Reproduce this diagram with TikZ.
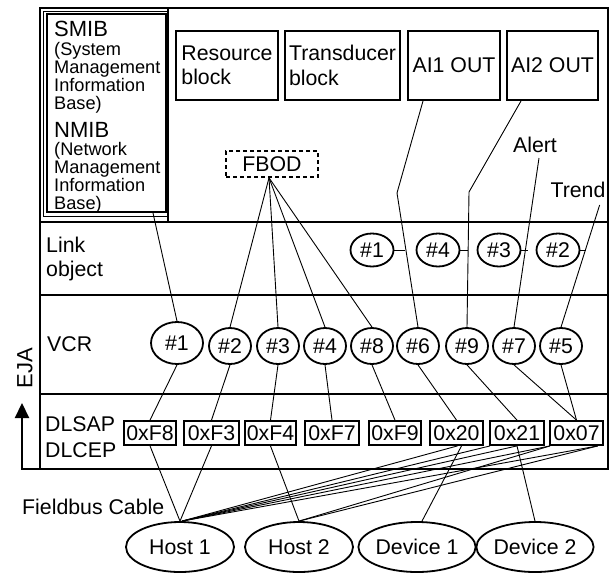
\documentclass[tikz,border=0pt]{standalone}
\usepackage{fontspec}
\setmainfont{Liberation Sans}
\usetikzlibrary{shapes.geometric,arrows.meta,calc}
\begin{document}
\begin{tikzpicture}[x=1pt,y=-1pt,
  font=\fontsize{21.3}{24.5}\selectfont,
  frm/.style={line width=2pt},
  conn/.style={line width=0.9pt},
  lbl/.style={anchor=base west, inner sep=0pt},
  smf/.style={font=\fontsize{18.2}{18}\selectfont},
  bigf/.style={font=\fontsize{22}{24}\selectfont},
  blk/.style={draw, line width=2pt, minimum height=69pt, inner sep=0pt, align=left},
  lk/.style={ellipse, draw, line width=1.8pt, minimum width=43pt, minimum height=33pt, inner sep=0pt},
  vc/.style={ellipse, draw, line width=1.8pt, minimum width=42pt, minimum height=36pt, inner sep=0pt},
  hx/.style={draw, line width=1.8pt, minimum height=24pt, inner sep=0pt},
  dev/.style={ellipse, draw, line width=1.8pt, minimum width=108pt, minimum height=50pt, inner sep=0pt},
  fbodbox/.style={draw, line width=1.6pt, dash pattern=on 4pt off 3pt, minimum width=92pt, minimum height=26pt, inner sep=0pt}
]
\useasboundingbox (0,0) rectangle (612,573);

% frame
\draw[frm] (40,8) rectangle (608,469);
\draw[frm] (40,222) -- (608,222);
\draw[frm] (40,295) -- (608,295);
\draw[frm] (40,394) -- (608,394);
\draw[frm] (168,8) -- (168,222);
\draw[line width=1pt] (43,11) rectangle (168,216);
\node[draw, line width=2pt, minimum width=119pt, minimum height=198pt, inner sep=0pt] (smib) at (106.5,113) {};

% SMIB / NMIB text
\node[lbl,bigf] (t1) at (54,36) {SMIB};
\node[lbl,smf] (t2) at (54,55) {(System};
\node[lbl,smf] (t3) at (54,73) {Management};
\node[lbl,smf] (t4) at (54,91) {Information};
\node[lbl,smf] (t5) at (54,109) {Base)};
\node[lbl,bigf] (t6) at (54,137) {NMIB};
\node[lbl,smf] (t7) at (54,155) {(Network};
\node[lbl,smf] (t8) at (54,173) {Management};
\node[lbl,smf] (t9) at (54,191) {Information};
\node[lbl,smf] (t10) at (54,209) {Base)};

% row labels
\node[lbl] (lnk1) at (46,252) {Link};
\node[lbl] (lnk2) at (46,276) {object};
\node[lbl] (vcrl) at (47,351) {VCR};
\node[lbl] (dls) at (45,431) {DLSAP};
\node[lbl] (dlc) at (45,457) {DLCEP};
\node[lbl] (fbc) at (22,514) {Fieldbus Cable};
\node[rotate=90, bigf, inner sep=0pt] (eja) at (25,368) {EJA};
\draw[line width=2.2pt, -{Triangle[length=15pt,width=14pt]}] (40,469) -- (22,469) -- (22,403);

% top blocks
\node[blk, minimum width=102pt] (res) at (227,65.5) {Resource\\block};
\node[blk, minimum width=115pt] (trd) at (342.5,65.5) {Transducer\\block};
\node[blk, minimum width=92pt] (ai1) at (454,65.5) {AI1 OUT};
\node[blk, minimum width=91pt] (ai2) at (552.5,65.5) {AI2 OUT};
\node[fbodbox] (fbod) at (272,164) {FBOD};
\node[inner sep=0pt] (alert) at (535,145) {Alert};
\node[inner sep=0pt] (trend) at (578,190) {Trend};

% link objects
\node[lk] (l1) at (372,250) {\#1};
\node[lk] (l4) at (438,250) {\#4};
\node[lk] (l3) at (499,250) {\#3};
\node[lk] (l2) at (558,250) {\#2};

% VCR
\node[ellipse, draw, line width=1.8pt, minimum width=52pt, minimum height=42pt, inner sep=0pt] (v1) at (177,343) {\#1};
\node[vc] (v2) at (230,346) {\#2};
\node[vc] (v3) at (278,346) {\#3};
\node[vc] (v4) at (325,346) {\#4};
\node[vc] (v8) at (372,346) {\#8};
\node[vc] (v6) at (418,346) {\#6};
\node[vc] (v9) at (467,346) {\#9};
\node[vc] (v7) at (514,346) {\#7};
\node[vc] (v5) at (561,346) {\#5};

% DLSAP boxes
\node[hx, minimum width=52pt] (f8) at (150,433) {0xF8};
\node[hx, minimum width=55pt] (f3) at (211.5,433) {0xF3};
\node[hx, minimum width=51pt] (f4) at (270.5,433) {0xF4};
\node[hx, minimum width=54pt] (f7) at (332,433) {0xF7};
\node[hx, minimum width=52pt] (f9) at (395,433) {0xF9};
\node[hx, minimum width=53pt] (x20) at (456.5,433) {0x20};
\node[hx, minimum width=54pt] (x21) at (517,433) {0x21};
\node[hx, minimum width=53pt] (x07) at (576.5,433) {0x07};

% devices
\node[dev] (h1) at (180,547) {Host 1};
\node[dev] (h2) at (299,547) {Host 2};
\node[dev] (d1) at (417,547) {Device 1};
\node[dev] (d2) at (535,547) {Device 2};

% helper coordinates
\coordinate (k1) at (397,193);
\coordinate (k2) at (469,192);
\coordinate (s1) at (405,250);
\coordinate (s4) at (468,250);
\coordinate (s3) at (527.5,250);
\coordinate (s2) at (585.5,250);
\coordinate (fb) at ($(fbod.south)+(-3,0)$);

% upper connectors
\draw[conn] ($(smib.south)+(46.5,0)$) -- (v1.north);
\draw[conn] ($(ai1.south)+(-31,0)$) -- (k1) -- (v6.north);
\draw[conn] ($(ai2.south)+(-31.5,0)$) -- (k2) -- (v9.north);
\draw[conn] ($(alert.south)+(4,5)$) -- (v7.north);
\draw[conn] ($(trend.south east)+(-6,7)$) -- (v5.north);
\draw[conn] (l1.east) -- (s1);
\draw[conn] (l4.east) -- (s4);
\draw[conn] (l3.east) -- (s3);
\draw[conn] (l2.east) -- (s2);
\foreach \v in {v2,v3,v4,v8} \draw[conn] (fb) -- (\v.north);

% VCR to DLSAP
\draw[conn] (v1.south) -- (f8.north);
\draw[conn] (v2.south) -- (f3.north);
\draw[conn] (v3.south) -- (f4.north);
\draw[conn] (v4.south) -- (f7.north);
\draw[conn] (v8.south) -- (f9.north);
\draw[conn] (v6.south) -- (x20.north);
\draw[conn] (v9.south) -- (x21.north);
\draw[conn] (v7.south) -- (x07.north);
\draw[conn] (v5.south) -- (x07.north);

% DLSAP to devices
\draw[conn] (f8.south) -- (h1.north);
\draw[conn] (f3.south) -- (h1.north);
\draw[conn] (f4.south) -- (h2.north);
\draw[conn] ($(x20.south)+(5,0)$) -- ($(d1.north)+(5,0)$);
\draw[conn] (x21.south) -- (d2.north);
\draw[conn] ($(h1.north)+(2,0)$) -- ($(x20.south)+(1,0)$);
\draw[conn] ($(h1.north)+(2,0)$) -- ($(x21.south west)+(1,0)$);
\draw[conn] ($(h1.north)+(2,0)$) -- (x21.south);
\draw[conn] ($(h1.north)+(2,0)$) -- ($(x07.south west)+(1,0)$);
\draw[conn] ($(h1.north)+(2,0)$) -- ($(x07.south east)+(-6,0)$);
\draw[conn] (h2.north) -- ($(x07.south west)+(1,0)$);
\draw[conn] (h2.north) -- ($(x07.south east)+(-6,0)$);
\end{tikzpicture}
\end{document}
